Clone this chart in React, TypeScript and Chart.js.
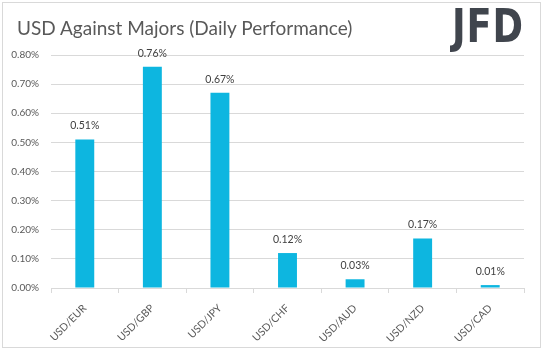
import React, { useEffect, useRef } from "react";
import { Chart, registerables } from "chart.js";

Chart.register(...registerables);

const categories = ["USD/EUR", "USD/GBP", "USD/JPY", "USD/CHF", "USD/AUD", "USD/NZD", "USD/CAD"];
const performance = [0.51, 0.76, 0.67, 0.12, 0.03, 0.17, 0.01];
const yMin = 0;
const yMax = 0.8;
const yStep = 0.1;

const FONT = "Lato, 'Open Sans', sans-serif";

const valueLabels = {
  id: "valueLabels",
  afterDatasetsDraw(chart: any) {
    const ctx = chart.ctx;
    const meta = chart.getDatasetMeta(0);
    ctx.save();
    ctx.font = `10.5px ${FONT}`;
    ctx.fillStyle = "#404040";
    ctx.textAlign = "center";
    ctx.textBaseline = "alphabetic";
    meta.data.forEach((bar: any, i: number) => {
      ctx.fillText(performance[i].toFixed(2) + "%", bar.x, bar.y - 10);
    });
    ctx.restore();
  },
};

export default function App() {
  const canvasRef = useRef<HTMLCanvasElement | null>(null);

  useEffect(() => {
    if (!canvasRef.current) return;
    const chart = new Chart(canvasRef.current, {
      type: "bar",
      data: {
        labels: categories,
        datasets: [
          {
            data: performance,
            backgroundColor: "#0db6e0",
            borderWidth: 0,
            barPercentage: 0.28,
            categoryPercentage: 1,
          },
        ],
      },
      options: {
        animation: false,
        responsive: false,
        maintainAspectRatio: false,
        devicePixelRatio: 1,
        layout: { padding: { left: 0, right: 19, top: 55, bottom: 0 } },
        plugins: {
          legend: { display: false },
          tooltip: { enabled: false },
          title: { display: false },
        },
        scales: {
          x: {
            offset: true,
            grid: {
              offset: true,
              drawOnChartArea: false,
              drawTicks: true,
              tickLength: 5,
              color: "#d9d9d9",
            },
            border: { display: true, color: "#d9d9d9" },
            ticks: {
              minRotation: 45,
              maxRotation: 45,
              autoSkip: false,
              padding: 9,
              color: "#595959",
              font: { family: FONT, size: 10.5 },
            },
            afterFit(scale: any) {
              scale.height = 63;
            },
          },
          y: {
            min: yMin,
            max: yMax,
            ticks: {
              stepSize: yStep,
              padding: 12,
              color: "#595959",
              font: { family: FONT, size: 10 },
              callback: (v: any) => Number(v).toFixed(2) + "%",
            },
            grid: { color: "#d9d9d9", drawTicks: false },
            border: { display: false },
            afterFit(scale: any) {
              scale.width = 51;
            },
          },
        },
      },
      plugins: [valueLabels],
    });
    return () => chart.destroy();
  }, []);

  return (
    <div
      style={{
        position: "fixed",
        left: 0,
        top: 0,
        width: 543,
        height: 351,
        background: "#ffffff",
        overflow: "hidden",
      }}
    >
      <div
        style={{
          position: "absolute",
          left: 2,
          top: 2,
          width: 537,
          height: 344,
          border: "1px solid #d9d9d9",
        }}
      />
      <canvas ref={canvasRef} width={543} height={351} style={{ position: "absolute", left: 0, top: 0 }} />
      <div
        style={{
          position: "absolute",
          left: 17,
          top: 14,
          fontFamily: FONT,
          fontSize: 19,
          color: "#595959",
          whiteSpace: "nowrap",
          lineHeight: "28px",
        }}
      >
        USD Against Majors (Daily Performance)
      </div>
      <div
        style={{
          position: "absolute",
          left: 452,
          top: 0,
          fontFamily: "'DejaVu Sans', sans-serif",
          fontWeight: 700,
          fontSize: 46,
          lineHeight: "52px",
          color: "#40454d",
          whiteSpace: "nowrap",
          transform: "scaleX(0.8)",
          transformOrigin: "left top",
          letterSpacing: 1,
        }}
      >
        JFD
      </div>
    </div>
  );
}
